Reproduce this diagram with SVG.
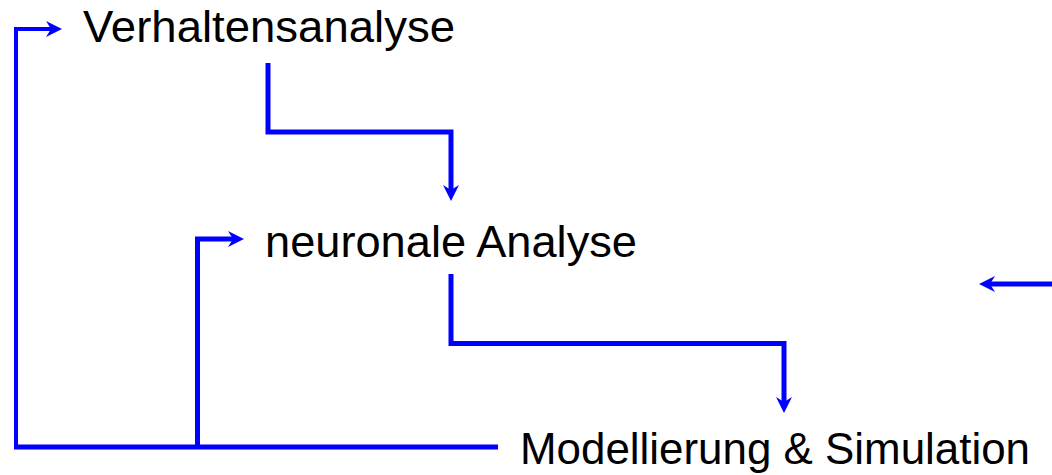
<svg xmlns="http://www.w3.org/2000/svg" width="1052" height="475" viewBox="0 0 1052 475">
  <style>
    .lbl { font-family: "Liberation Sans", Arial, sans-serif; font-size: 44px; fill: #000; }
    .c { fill: none; stroke: #0000ff; stroke-width: 5; stroke-linejoin: miter; stroke-linecap: butt; }
    .thin { stroke-width: 4; }
  </style>
  <defs>
    <marker id="ah" markerUnits="userSpaceOnUse" viewBox="0 -9 17 18" markerWidth="17" markerHeight="18" refX="5" refY="0" orient="auto">
      <path d="M0,-8 L16,0 L0,8 L5,0 Z" fill="#0000ff"/>
    </marker>
  </defs>

  <g id="connectors">
    <path class="c" d="M498,447 L14,447"/>
    <path class="c thin" d="M16,449 L16,29 L51,29" marker-end="url(#ah)"/>
    <path class="c" d="M197.5,447 L197.5,239 L233,239" marker-end="url(#ah)"/>
    <path class="c" d="M268,63 L268,132 L451,132 L451,190" marker-end="url(#ah)"/>
    <path class="c" d="M451,274 L451,343.5 L784,343.5 L784,402" marker-end="url(#ah)"/>
    <path class="c" d="M1052,284 L990,284" marker-end="url(#ah)"/>
  </g>

  <g id="node-verhaltensanalyse">
    <text class="lbl" x="83" y="42" textLength="372" lengthAdjust="spacingAndGlyphs">Verhaltensanalyse</text>
  </g>
  <g id="node-neuronale-analyse">
    <text class="lbl" x="265" y="257" textLength="372" lengthAdjust="spacingAndGlyphs">neuronale Analyse</text>
  </g>
  <g id="node-modellierung">
    <text class="lbl" x="520" y="464" textLength="510" lengthAdjust="spacingAndGlyphs">Modellierung &amp; Simulation</text>
  </g>
</svg>
